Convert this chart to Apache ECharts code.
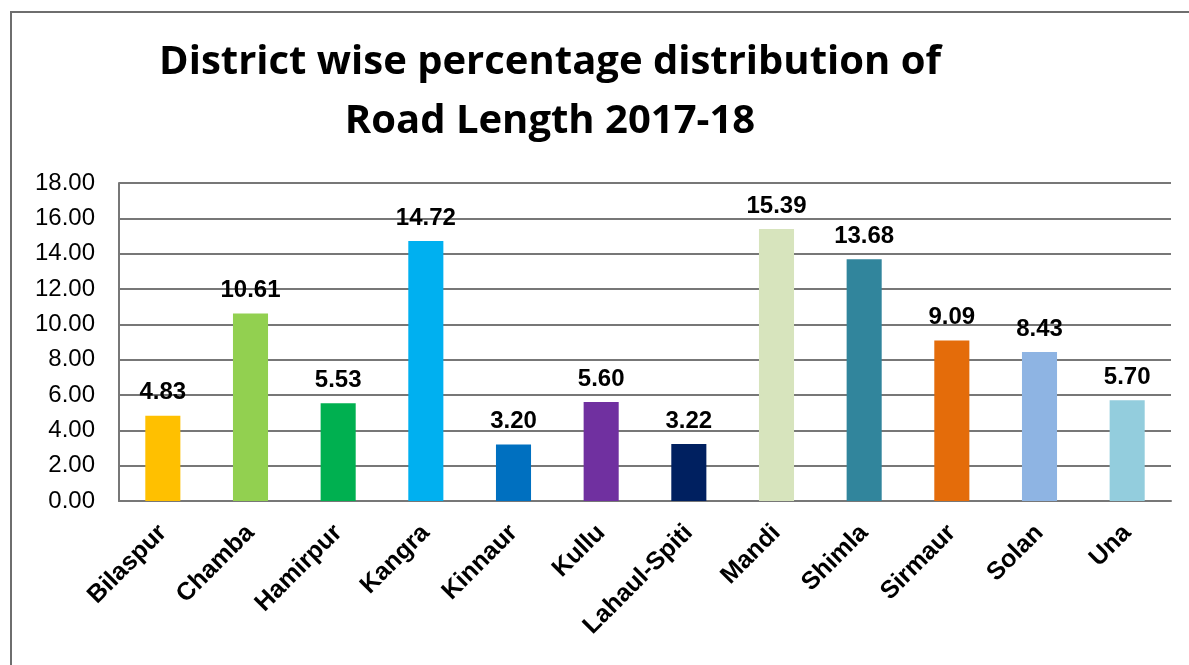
<!DOCTYPE html>
<html>
<head>
<meta charset="utf-8">
<script src="https://cdn.jsdelivr.net/npm/echarts@6/dist/echarts.min.js"></script>
<style>
html,body{margin:0;padding:0;background:#fff;}
#c{width:1189px;height:665px;}
</style>
</head>
<body>
<div id="c"></div>
<script>
const categories = ['Bilaspur','Chamba','Hamirpur','Kangra','Kinnaur','Kullu','Lahaul-Spiti','Mandi','Shimla','Sirmaur','Solan','Una'];
const values = [4.83,10.61,5.53,14.72,3.20,5.60,3.22,15.39,13.68,9.09,8.43,5.70];
const barColors = ['#FFC000','#92D050','#00B050','#00B0F0','#0070C0','#7030A0','#002060','#D7E4BD','#31859C','#E46C0A','#8EB4E3','#93CDDD'];
const titleLines = ['District wise percentage distribution of','Road Length 2017-18'];

const chart = echarts.init(document.getElementById('c'));
chart.setOption({
  animation:false,
  backgroundColor:'#fff',
  graphic:[{
    type:'rect', shape:{x:11,y:12,width:1200,height:700},
    style:{fill:'none',stroke:'#6e6e6e',lineWidth:2}, silent:true
  }],
  title:{
    text:titleLines.join('\n'),
    left:545, top:28, textAlign:'center',
    textStyle:{fontFamily:'Open Sans',fontWeight:'bold',fontSize:40,lineHeight:59,color:'#000'}
  },
  grid:{left:119,right:18,top:183,bottom:164,containLabel:false},
  xAxis:{
    type:'category', data:categories,
    axisLine:{show:true,lineStyle:{color:'#777',width:2}},
    axisTick:{show:false},
    axisLabel:{rotate:45,margin:28,interval:0,fontFamily:'Arial, Liberation Sans',fontWeight:'bold',fontSize:25,color:'#000'}
  },
  yAxis:{
    type:'value', min:0, max:18, interval:2,
    axisLine:{show:true,lineStyle:{color:'#777',width:2}},
    axisTick:{show:false},
    splitLine:{show:true,lineStyle:{color:'#777',width:2}},
    axisLabel:{margin:24,formatter:v=>v.toFixed(2),fontFamily:'Arial, Liberation Sans',fontSize:24,color:'#000'}
  },
  series:[{
    type:'bar', barWidth:'40%',
    data:values.map((v,i)=>({value:v,itemStyle:{color:barColors[i]}})),
    label:{show:true,position:'top',distance:11,formatter:p=>p.value.toFixed(2),fontFamily:'Arial, Liberation Sans',fontWeight:'bold',fontSize:24,color:'#000'}
  }]
});
</script>
</body>
</html>
